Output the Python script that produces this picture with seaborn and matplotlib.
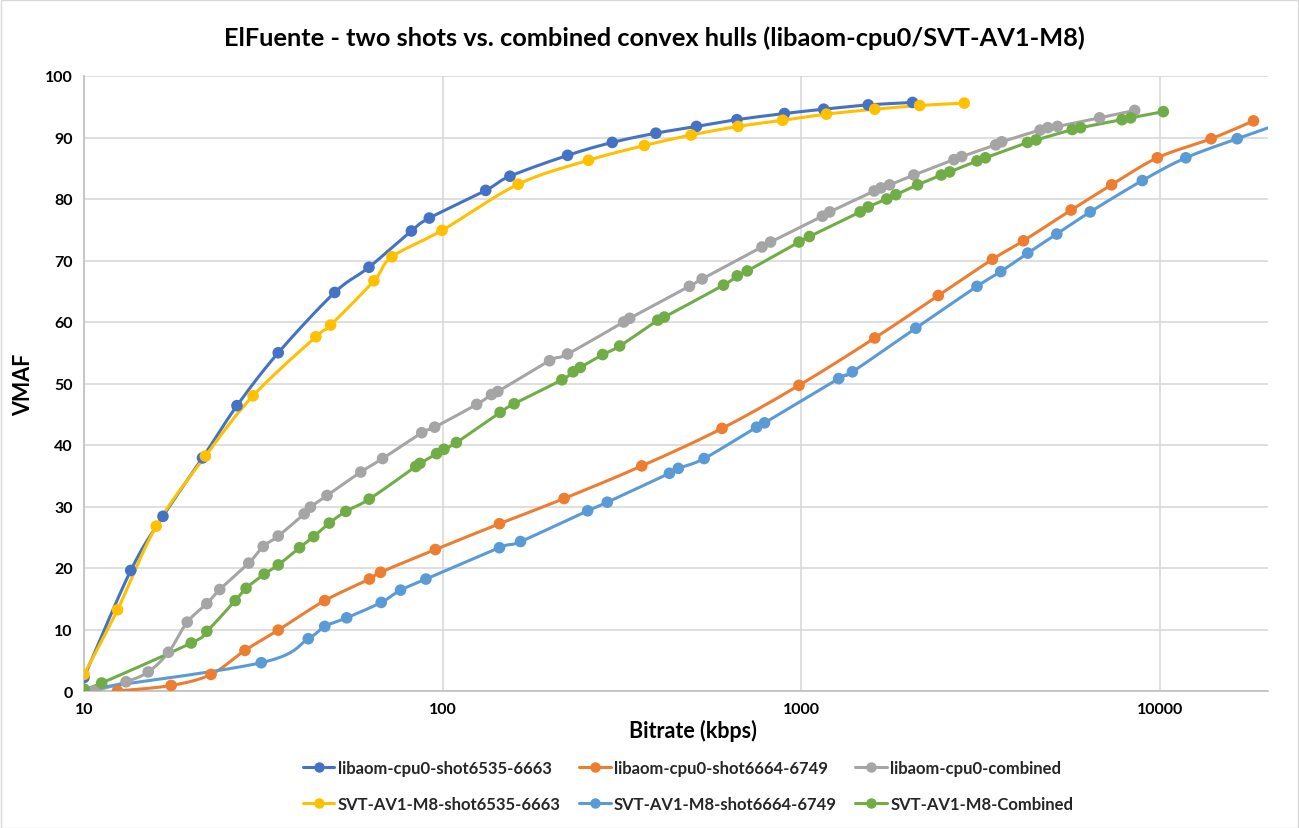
import numpy as np
import pandas as pd
import matplotlib
matplotlib.use("Agg")
import matplotlib.pyplot as plt
from matplotlib.lines import Line2D
import seaborn as sns

# ---------------- data ----------------
title = "ElFuente - two shots vs. combined convex hulls (libaom-cpu0/SVT-AV1-M8)"
x_label = "Bitrate (kbps)"
y_label = "VMAF"
x_ticks = [10, 100, 1000, 10000]
y_ticks = [0, 10, 20, 30, 40, 50, 60, 70, 80, 90, 100]

names = ["libaom-cpu0-shot6535-6663", "libaom-cpu0-shot6664-6749", "libaom-cpu0-combined",
         "SVT-AV1-M8-shot6535-6663", "SVT-AV1-M8-shot6664-6749", "SVT-AV1-M8-Combined"]
colors = ["#4472C4", "#ED7D31", "#A5A5A5", "#FFC000", "#5B9BD5", "#70AD47"]

aom_a_x = [10.0, 13.5, 16.6, 21.4, 26.7, 34.8, 50.0, 62.3, 81.8, 91.8, 131.8, 154, 223, 297, 393,
           510, 661, 897, 1154, 1536, 2042]
aom_a_y = [2.2, 19.6, 28.4, 37.9, 46.4, 55.0, 64.8, 68.9, 74.8, 76.9, 81.4, 83.7, 87.1, 89.2, 90.7,
           91.8, 92.9, 93.9, 94.6, 95.3, 95.7]

aom_b_x = [12.4, 17.5, 22.6, 28.1, 34.8, 46.9, 62.5, 67.1, 95.4, 144, 218, 359, 601, 985, 1602,
           2409, 3410, 4160, 5650, 7328, 9829, 13883, 18224]
aom_b_y = [0.0, 0.9, 2.7, 6.6, 9.9, 14.7, 18.2, 19.3, 23.0, 27.2, 31.3, 36.6, 42.7, 49.7, 57.4,
           64.3, 70.2, 73.2, 78.2, 82.3, 86.7, 89.8, 92.7]

aom_c_x = [10.7, 13.1, 15.1, 17.2, 19.4, 22.0, 23.9, 28.8, 31.6, 34.8, 41.1, 42.8, 47.6, 59.1, 68.0,
           87.4, 95.0, 124.4, 136.8, 142.5, 198.6, 222.9, 319.7, 332.2, 487.5, 529, 776.6, 820.6,
           1145, 1200, 1596, 1666, 1762, 2059, 2664, 2799, 3483, 3620, 4630, 4866, 5178, 6785, 8497]
aom_c_y = [0.0, 1.5, 3.1, 6.3, 11.2, 14.2, 16.5, 20.8, 23.5, 25.2, 28.8, 29.9, 31.8, 35.6, 37.8,
           42.0, 42.9, 46.6, 48.2, 48.7, 53.7, 54.8, 60.0, 60.6, 65.8, 67.0, 72.2, 73.0,
           77.2, 77.9, 81.3, 81.8, 82.3, 83.9, 86.4, 86.9, 88.8, 89.3, 91.2, 91.6, 91.8, 93.2, 94.4]

svt_a_x = [10.0, 12.4, 15.9, 21.8, 29.6, 44.3, 48.7, 64.3, 72.2, 99.6, 162.3, 255, 365, 493, 666,
           887, 1175, 1602, 2137, 2846]
svt_a_y = [2.7, 13.2, 26.8, 38.2, 48.0, 57.6, 59.5, 66.7, 70.6, 74.9, 82.4, 86.3, 88.7, 90.4, 91.8,
           92.8, 93.8, 94.6, 95.2, 95.6]

svt_b_x = [10.0, 31.2, 42.2, 46.9, 54.0, 67.4, 76.3, 89.8, 144, 164.8, 253.6, 287.7, 428.7, 454,
           535.7, 750, 789.6, 1271, 1388, 2085, 3088, 3597, 4278, 5155, 6387, 8926, 11800, 16410,
           24000]
svt_b_y = [0.2, 4.6, 8.5, 10.5, 11.9, 14.4, 16.4, 18.2, 23.3, 24.3, 29.3, 30.7, 35.4, 36.2,
           37.8, 42.9, 43.6, 50.8, 51.9, 59.0, 65.8, 68.2, 71.2, 74.3, 77.9, 83.0, 86.7, 89.8,
           93.2]

svt_c_x = [10.0, 11.2, 19.9, 22.0, 26.4, 28.3, 31.8, 34.8, 39.9, 43.7, 48.3, 53.7, 62.4, 84.1, 86.4,
           96.2, 100.8, 109.2, 144.6, 158.2, 215, 231, 241.8, 279.3, 311.6, 397.9, 415, 606.6,
           662.6, 706.6, 985, 1053, 1459, 1536, 1730, 1834, 2109, 2456, 2591, 3088, 3260, 4271,
           4513, 5690, 6005, 7834, 8283, 10213]
svt_c_y = [0.3, 1.3, 7.8, 9.7, 14.7, 16.7, 19.0, 20.5, 23.3, 25.1, 27.3, 29.2, 31.2, 36.5, 37.0,
           38.6, 39.3, 40.4, 45.3, 46.7, 50.6, 51.9, 52.6, 54.7, 56.1, 60.3, 60.8, 66.0,
           67.5, 68.3, 73.0, 73.9, 77.9, 78.7, 80.0, 80.7, 82.3, 83.9, 84.4, 86.2, 86.7, 89.2,
           89.6, 91.3, 91.6, 92.9, 93.2, 94.2]

series_x = [aom_a_x, aom_b_x, aom_c_x, svt_a_x, svt_b_x, svt_c_x]
series_y = [aom_a_y, aom_b_y, aom_c_y, svt_a_y, svt_b_y, svt_c_y]

# ---------------- figure ----------------
W, H = 1299, 829
sns.set_theme(style="white")
plt.rcParams["font.family"] = ["Lato", "DejaVu Sans"]
fig = plt.figure(figsize=(W / 100, H / 100), dpi=100)
fig.patch.set_facecolor("white")
ax = fig.add_axes([84 / W, 1 - 692 / H, (1268 - 84) / W, (692 - 77) / H])

# Excel-style smoothed lines (Bezier through points, in screen space)
sx, sy = 358.0, 6.15


def smooth(xs, ys, steps=24):
    px = np.log10(np.asarray(xs, float)) * sx
    py = np.asarray(ys, float) * sy
    P = np.column_stack([px, py])
    n = len(P)
    out = [P[0]]
    for i in range(n - 1):
        p0 = P[i - 1] if i > 0 else P[i]
        p1, p2 = P[i], P[i + 1]
        p3 = P[i + 2] if i + 2 < n else P[i + 1]
        c1 = p1 + (p2 - p0) / 6.0
        c2 = p2 - (p3 - p1) / 6.0
        t = np.linspace(0, 1, steps)[1:, None]
        seg = ((1 - t) ** 3) * p1 + 3 * ((1 - t) ** 2) * t * c1 + 3 * (1 - t) * t ** 2 * c2 + t ** 3 * p2
        out.extend(seg)
    out = np.array(out)
    return 10 ** (out[:, 0] / sx), out[:, 1] / sy


line_frames, pt_frames = [], []
for nm, xs, ys in zip(names, series_x, series_y):
    lx, ly = smooth(xs, ys)
    line_frames.append(pd.DataFrame({"x": lx, "y": ly, "series": nm}))
    pt_frames.append(pd.DataFrame({"x": xs, "y": ys, "series": nm}))
lines_df = pd.concat(line_frames, ignore_index=True)
pts_df = pd.concat(pt_frames, ignore_index=True)
palette = dict(zip(names, colors))

sns.lineplot(data=lines_df, x="x", y="y", hue="series", palette=palette, hue_order=names,
             sort=False, estimator=None, units="series", lw=2.2, legend=False, ax=ax, zorder=3)
sns.scatterplot(data=pts_df, x="x", y="y", hue="series", palette=palette, hue_order=names,
                s=70, linewidth=0, legend=False, ax=ax, zorder=4, clip_on=True)

ax.set_xscale("log")
ax.set_xlim(10, 20000)
ax.set_ylim(0, 100)
ax.set_xticks(x_ticks)
ax.set_xticklabels([str(v) for v in x_ticks])
ax.xaxis.set_minor_locator(matplotlib.ticker.NullLocator())
ax.set_yticks(y_ticks)
ax.set_yticklabels([str(v) for v in y_ticks])
ax.tick_params(axis="both", length=0, labelsize=11.5, labelcolor="#000000", pad=8)
for lab in ax.get_xticklabels() + ax.get_yticklabels():
    lab.set_fontweight("bold")

ax.grid(True, which="major", color="#D9D9D9", lw=1.2)
ax.set_axisbelow(True)
for s in ["top", "right"]:
    ax.spines[s].set_visible(False)
for s in ["left", "bottom"]:
    ax.spines[s].set_color("#BFBFBF")
    ax.spines[s].set_linewidth(1.2)

ax.set_xlabel(x_label, fontsize=15.5, fontweight="bold", color="#000000", labelpad=3)
ax.xaxis.set_label_coords((693 - 84) / (1268 - 84), -0.045)
ax.set_ylabel(y_label, fontsize=15.5, fontweight="bold", color="#000000", labelpad=8)

fig.text(654 / W, 1 - 38 / H, title, ha="center", va="center", fontsize=18.3,
         fontweight="bold", color="#000000")

# legend
order = [0, 3, 1, 4, 2, 5]
handles = [Line2D([0], [0], color=colors[i], lw=2.2, marker="o", markersize=6.5) for i in order]
labels = [names[i] for i in order]
leg = fig.legend(handles, labels, loc="center", bbox_to_anchor=(688 / W, 1 - 787 / H), ncol=3,
                 frameon=False, prop={"weight": "bold", "size": 12}, handlelength=1.9,
                 handletextpad=0.2, columnspacing=1.1, labelspacing=1.2)

# chart border
fig.add_artist(plt.Rectangle((0.5 / W, 0.5 / H), 1 - 1.5 / W, 1 - 1.5 / H, transform=fig.transFigure,
                             fill=False, edgecolor="#D9D9D9", lw=1))

fig.savefig("out.png", dpi=100, facecolor="white")
